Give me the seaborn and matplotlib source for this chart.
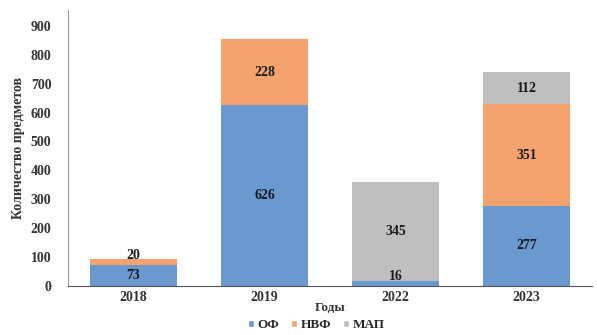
import numpy as np
import pandas as pd
import matplotlib
matplotlib.use("Agg")
import matplotlib.pyplot as plt
import seaborn as sns
from matplotlib.patches import Patch

years = ["2018", "2019", "2022", "2023"]
of_vals = [73, 626, 16, 277]
nvf_vals = [20, 228, 0, 351]
map_vals = [0, 0, 345, 112]
series_names = ["ОФ", "НВФ", "МАП"]
colors = ["#6a99d0", "#f4a26e", "#bfbfbf"]

sns.set_style("white")
plt.rcParams["font.family"] = ["Liberation Serif", "DejaVu Serif"]
plt.rcParams["font.weight"] = "bold"

df = pd.DataFrame({"year": years, "ОФ": of_vals, "НВФ": nvf_vals, "МАП": map_vals})
df["c1"] = df["ОФ"]
df["c2"] = df["c1"] + df["НВФ"]
df["c3"] = df["c2"] + df["МАП"]

fig = plt.figure(figsize=(5.97, 3.35), dpi=100)
ax = fig.add_axes([0.114, 0.147, 0.878, 0.823])

# stack by drawing the cumulative totals from top layer down
for col, c in zip(["c3", "c2", "c1"], colors[::-1]):
    sns.barplot(data=df, x="year", y=col, color=c, width=0.66, saturation=1, ax=ax, linewidth=0)

# value labels, small segments get nudged up a bit
for i, row in df.iterrows():
    base = 0
    for name in series_names:
        v = row[name]
        if v > 0:
            va = "bottom" if v < 40 else "center"
            ax.text(i, base + v / 2, str(v), ha="center", va=va, fontsize=10,
                    fontweight="bold", color="#1a1a1a")
        base += v

ax.set_ylim(0, 955)
ax.set_xlim(-0.5, 3.5)
ax.set_yticks(np.arange(0, 901, 100))
ax.tick_params(axis="y", length=0, labelsize=10, pad=12, colors="#333333")
ax.tick_params(axis="x", length=0, labelsize=10, pad=4, colors="#333333")
for lab in ax.get_xticklabels() + ax.get_yticklabels():
    lab.set_fontweight("bold")
ax.set_xlabel("Годы", fontsize=9.5, fontweight="bold", labelpad=-2, color="#333333")
ax.set_ylabel("Количество предметов", fontsize=10, fontweight="bold", labelpad=4, color="#333333")

for s in ["top", "right"]:
    ax.spines[s].set_visible(False)
ax.spines["left"].set_color("#999999")
ax.spines["bottom"].set_color("#555555")

handles = [Patch(facecolor=c, label=n) for n, c in zip(series_names, colors)]
fig.legend(handles=handles, loc="lower center", bbox_to_anchor=(0.53, -0.025), ncol=3, frameon=False,
           handlelength=0.45, handleheight=0.45, handletextpad=0.3, columnspacing=0.9,
           prop={"weight": "bold", "size": 9.5})

fig.savefig("out.png", dpi=100)
